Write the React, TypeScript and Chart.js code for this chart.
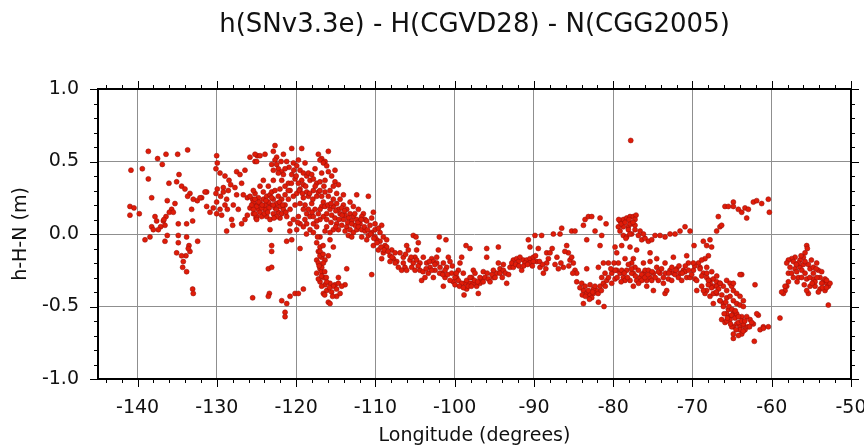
import React, { useEffect, useRef } from 'react';
import { Chart, registerables } from 'chart.js';
Chart.register(...registerables);

const TITLE = 'h(SNv3.3e) - H(CGVD28) - N(CGG2005)';
const X_TITLE = 'Longitude (degrees)';
const Y_TITLE = 'h-H-N (m)';
const xTicks = [-140, -130, -120, -110, -100, -90, -80, -70, -60, -50];
const yTicks = [-1, -0.5, 0, 0.5, 1];
const xRange = [-145, -50];
const yRange = [-1, 1];

const pacificPts: [number, number][] = [
  [-138.65,0.57],[-136.42,0.55],[-134.95,0.55],[-133.69,0.58],[-137.48,0.52],[-136.89,0.48],[-140.84,0.44],[-139.41,0.45],
  [-138.65,0.38],[-136.05,0.35],[-134.78,0.41],[-135.08,0.36],[-134.45,0.33],[-134.03,0.31],[-133.4,0.28],[-133.69,0.26],
  [-132.98,0.24],[-132.47,0.23],[-131.92,0.25],[-131.29,0.29],[-138.23,0.25],[-140.97,0.19],[-140.46,0.18],[-140.97,0.13],
  [-139.79,0.14],[-136.26,0.23],[-135.29,0.21],[-135.71,0.17],[-136.0,0.15],[-135.5,0.15],[-136.42,0.12],[-136.76,0.09],
  [-136.55,0.06],[-137.1,0.05],[-137.81,0.12],[-137.6,0.09],[-138.23,0.05],[-138.02,0.03],[-137.39,0.03],[-136.68,0.1],
  [-139.07,-0.04],[-138.44,-0.02],[-136.26,-0.01],[-134.87,-0.01],[-134.87,-0.06],[-133.82,-0.02],[-133.52,-0.08],[-133.4,-0.12],
  [-133.9,-0.15],[-134.45,-0.15],[-134.24,-0.19],[-134.32,-0.23],[-133.82,-0.26],[-133.06,-0.38],[-132.98,-0.41],[-132.43,-0.05],
  [-133.19,0.17],[-133.06,0.09],[-133.82,0.07],[-128.77,0.02],[-125.49,-0.44],[-134.87,0.07],[-136.55,-0.05],[-135.08,-0.13],
  [-133.61,-0.1],[-130.03,0.54],[-129.95,0.49],[-130.12,0.45],[-129.61,0.42],[-128.98,0.4],[-128.47,0.37],[-128.26,0.34],
  [-129.19,0.32],[-129.95,0.31],[-130.12,0.28],[-129.53,0.26],[-128.77,0.24],[-130.03,0.22],[-131.29,0.19],[-130.87,0.15],
  [-130.03,0.14],[-129.4,0.13],[-128.68,0.17],[-128.14,0.1],[-128.01,0.06],[-126.88,0.07],[-126.46,0.1],[-126.16,0.13],
  [-127.51,0.43],[-127.09,0.41],[-126.46,0.44],[-125.83,0.53],[-125.19,0.5],[-124.9,0.54],[-126.88,0.35],[-126.67,0.27],
  [-126.16,0.25],[-125.49,0.24],[-124.98,0.2],[-124.77,0.17],[-131.5,0.29],[-132.13,0.25],[-129.19,0.29],[-128.56,0.3],
  [-127.72,0.32],[-127.51,0.27],[-127.93,0.2],[-127.3,0.17],[-125.83,0.18],[-125.4,0.14],[-125.07,0.11],[-130.45,0.18],
  [-129.61,0.17],[-128.98,0.2]
];

const cordilleraPts: [number, number][] = [
  [-125.19,0.55],[-124.56,0.54],[-123.93,0.55],[-122.67,0.61],[-122.88,0.57],[-122.46,0.53],[-121.61,0.55],[-120.56,0.59],
  [-119.3,0.59],[-117.2,0.55],[-116.78,0.52],[-115.94,0.57],[-116.36,0.5],[-124.98,0.5],[-122.67,0.51],[-122.46,0.48],
  [-122.25,0.45],[-121.82,0.43],[-121.61,0.41],[-122.25,0.42],[-122.88,0.44],[-123.09,0.48],[-120.35,0.49],[-119.93,0.47],
  [-119.51,0.44],[-119.09,0.42],[-118.67,0.4],[-118.25,0.37],[-118.46,0.42],[-118.04,0.41],[-117.83,0.38],[-117.41,0.35],
  [-116.99,0.36],[-119.3,0.37],[-119.72,0.35],[-119.09,0.34],[-120.56,0.41],[-120.14,0.38],[-120.98,0.35],[-121.4,0.33],
  [-116.99,0.51],[-116.57,0.49],[-116.15,0.47],[-115.94,0.43],[-115.52,0.4],[-115.1,0.36],[-114.67,0.34],[-115.31,0.33],
  [-115.73,0.3],[-116.36,0.29],[-116.78,0.26],[-125.82,0.26],[-125.4,0.22],[-124.98,0.19],[-124.56,0.21],[-124.14,0.24],
  [-123.72,0.26],[-123.3,0.27],[-122.88,0.24],[-122.46,0.21],[-122.04,0.19],[-121.61,0.17],[-123.3,0.2],[-123.93,0.17],
  [-124.56,0.15],[-124.98,0.12],[-125.4,0.17],[-122.88,0.14],[-123.72,0.12],[-123.09,0.29],[-122.67,0.3],[-122.25,0.26],
  [-121.82,0.24],[-121.4,0.27],[-124.14,0.29],[-125.19,0.28],[-124.98,0.1],[-123.3,0.1],[-122.04,0.11],[-121.19,0.12],
  [-123.3,0.03],[-123.09,-0.08],[-123.09,-0.12],[-123.51,-0.24],[-123.38,-0.41],[-123.51,-0.43],[-124.14,0.37],[-125.4,0.3],
  [-120.35,0.26],[-119.51,0.21],[-119.09,0.17],[-118.67,0.14],[-118.25,0.12],[-119.72,0.12],[-120.35,0.1],[-120.77,0.07],
  [-119.09,0.05],[-118.25,0.03],[-117.41,0.05],[-116.99,0.1],[-116.57,0.12],[-116.15,0.14],[-115.73,0.17],[-115.31,0.19],
  [-114.89,0.21],[-114.46,0.24],[-114.04,0.2],[-113.62,0.17],[-113.2,0.14],[-112.78,0.12],[-112.36,0.1],[-111.94,0.07],
  [-114.46,0.14],[-114.04,0.1],[-114.89,0.07],[-115.31,0.03],[-115.73,0.01],[-113.62,0.05],[-113.2,0.03],[-112.78,0.01],
  [-112.36,0.03],[-116.15,0.05],[-116.78,0.19],[-117.62,0.17],[-118.04,0.21],[-118.46,0.26],[-117.41,0.26],[-116.57,0.22],
  [-115.94,0.26],[-115.31,0.24],[-112.36,0.27],[-110.89,0.26],[-110.26,0.15],[-111.52,0.14],[-111.31,0.1],[-110.68,0.06],
  [-110.05,0.03],[-109.42,0.01],[-109.0,-0.02],[-108.58,-0.04],[-109.84,-0.04],[-110.26,-0.08],[-109.63,-0.11],[-109.0,-0.13],
  [-108.16,-0.15],[-107.73,-0.17],[-107.31,-0.19],[-107.1,-0.23],[-108.16,-0.19],[-109.21,-0.17],[-108.79,-0.08],[-109.21,0.06],
  [-111.1,-0.04],[-111.73,-0.02],[-110.47,-0.28],[-117.41,-0.06],[-116.99,-0.09],[-117.2,-0.12],[-116.78,-0.16],[-117.41,-0.18],
  [-117.2,-0.2],[-116.99,-0.24],[-116.78,-0.26],[-117.41,-0.27],[-116.57,-0.3],[-116.99,-0.33],[-116.36,-0.35],[-115.73,-0.34],
  [-115.1,-0.35],[-114.67,-0.34],[-113.83,-0.35],[-116.15,-0.39],[-116.57,-0.41],[-115.94,-0.47],[-115.73,-0.48],[-114.89,-0.43],
  [-114.46,-0.41],[-115.31,-0.36],[-116.78,-0.23],[-116.36,-0.18],[-115.94,-0.15],[-114.67,-0.3],[-113.62,-0.24],[-115.31,-0.09],
  [-115.73,-0.04],[-121.82,-0.46],[-121.19,-0.48],[-121.4,-0.54],[-121.4,-0.57],[-120.77,-0.43],[-120.14,-0.41],[-119.72,-0.41],
  [-119.09,-0.38],[-119.51,-0.1],[-120.56,-0.04],[-123.09,-0.23],
  [-125.61,0.2],[-124.77,0.25],[-124.35,0.18],[-123.51,0.22],[-122.67,0.18],[-122.25,0.15],[-123.09,0.25],[-123.93,0.2],
  [-125.19,0.14],[-124.35,0.12],[-122.46,0.12],[-121.82,0.14],[-121.4,0.2],[-120.98,0.24],[-120.77,0.17],[-120.14,0.2],
  [-119.93,0.28],[-119.09,0.25],[-118.88,0.2],[-118.46,0.17],[-117.83,0.12],[-117.41,0.09],[-116.99,0.17],[-116.36,0.19],
  [-115.52,0.13],[-115.1,0.11],[-114.67,0.17],[-114.25,0.18],[-113.83,0.13],[-113.41,0.11],[-112.99,0.09],[-112.57,0.06],
  [-112.15,0.05],[-111.73,0.03],[-111.31,0.02],[-110.89,-0.01],[-114.25,0.06],[-114.67,0.03],[-113.83,0.02],[-113.41,-0.01],
  [-112.99,-0.02],[-116.15,0.1],[-117.83,0.07],[-118.67,0.07],[-119.51,0.07],[-119.93,0.03],[-117.83,0.01],[-116.99,-0.02],
  [-116.36,0.02],[-119.51,0.31],[-118.67,0.29],[-117.83,0.3],[-117.2,0.29],[-120.77,0.3],[-122.04,0.31],[-123.51,0.33],
  [-124.56,0.33],[-121.82,0.37],[-122.88,0.37],[-116.78,0.42],[-116.36,0.37],[-117.62,0.45],[-118.88,0.49],[-119.72,0.51],
  [-115.1,0.44],[-114.89,0.28],[-114.04,0.27],[-113.2,0.22],[-112.78,0.19],[-112.15,0.17],[-111.73,0.12],[-111.1,0.09],
  [-110.47,0.11],[-110.05,0.07],[-109.63,0.04],[-110.47,0.01],[-110.05,-0.02],[-109.42,-0.05],[-108.58,-0.09],[-107.94,-0.11],
  [-107.52,-0.13],[-116.99,-0.12],[-116.57,-0.2],[-117.2,-0.31],[-116.78,-0.36],[-116.15,-0.33],[-115.52,-0.4],[-114.25,-0.36],
  [-124.7,0.22],[-124.3,0.2],[-123.8,0.23],[-123.4,0.18],[-122.9,0.2],[-122.5,0.17],[-122.1,0.22],[-121.7,0.2],
  [-121.3,0.15],[-124.0,0.14],[-123.6,0.15],[-122.8,0.11],[-125.2,0.24],[-121.0,0.3],[-120.6,0.35],[-120.3,0.44],
  [-120.9,0.46],[-121.2,0.5],[-121.9,0.5],[-121.4,0.45],[-120.0,0.4],[-119.6,0.3],[-119.2,0.28],[-118.8,0.33],
  [-118.3,0.28],[-117.9,0.24],[-117.6,0.33],[-117.0,0.3],[-116.5,0.33],[-116.0,0.2],[-115.6,0.21],[-115.0,0.16],
  [-114.6,0.1],[-114.2,0.13],[-113.9,0.16],[-113.5,0.08],[-113.0,0.07],[-112.6,0.14],[-112.2,0.08],[-111.8,0.1],
  [-111.4,0.05],[-111.0,0.03],[-110.6,0.0],[-110.2,-0.03],[-109.8,-0.06],[-109.3,-0.09],[-108.9,-0.11],[-108.4,-0.12],
  [-107.9,-0.16],[-107.5,-0.2],[-116.6,-0.08],[-117.0,-0.15],[-116.6,-0.14],[-117.1,-0.22],[-116.4,-0.26],[-116.8,-0.29],
  [-116.2,-0.3],[-115.8,-0.37],[-116.4,-0.42],[-115.4,-0.43],[-114.9,-0.38],[-117.3,-0.02],[-118.7,0.0],[-119.8,0.08],
  [-120.8,0.02],[-121.2,-0.05],[-118.0,0.15],[-117.2,0.14],[-115.6,0.08],[-115.0,0.05],[-118.9,0.1]
];

const prairiePts: [number, number][] = [
  [-105.22,-0.01],[-104.88,-0.02],[-101.94,-0.02],[-101.1,-0.04],[-98.57,-0.08],[-98.07,-0.1],[-95.96,-0.1],[-94.49,-0.09],
  [-90.71,-0.04],[-90.5,-0.09],[-89.87,-0.01],[-89.03,-0.01],[-89.45,-0.1],[-88.39,-0.13],[-106.9,-0.13],[-106.48,-0.16],
  [-106.06,-0.08],[-105.85,-0.11],[-105.64,-0.18],[-106.27,-0.23],[-106.69,-0.25],[-105.22,-0.2],[-105.01,-0.16],[-104.8,-0.11],
  [-104.59,-0.06],[-104.38,-0.25],[-104.17,-0.32],[-103.75,-0.3],[-103.96,-0.16],[-103.54,-0.2],[-103.11,-0.23],[-102.9,-0.17],
  [-102.69,-0.19],[-102.48,-0.25],[-102.27,-0.16],[-102.06,-0.11],[-101.85,-0.23],[-101.64,-0.27],[-101.43,-0.36],[-101.22,-0.3],
  [-101.01,-0.23],[-100.8,-0.16],[-100.59,-0.19],[-100.38,-0.27],[-100.17,-0.33],[-99.96,-0.35],[-99.75,-0.3],[-99.54,-0.25],
  [-99.33,-0.2],[-99.12,-0.16],[-98.91,-0.27],[-98.7,-0.34],[-98.49,-0.38],[-98.07,-0.34],[-97.86,-0.3],[-97.65,-0.25],
  [-97.44,-0.27],[-97.23,-0.36],[-97.02,-0.41],[-96.81,-0.34],[-96.6,-0.31],[-96.39,-0.26],[-96.18,-0.3],[-95.96,-0.16],
  [-95.75,-0.31],[-95.54,-0.33],[-95.12,-0.3],[-94.7,-0.27],[-94.49,-0.2],[-94.28,-0.24],[-93.86,-0.21],[-93.44,-0.34],
  [-93.02,-0.23],[-92.6,-0.18],[-92.18,-0.17],[-91.76,-0.16],[-91.55,-0.25],[-91.34,-0.18],[-90.92,-0.18],[-90.5,-0.17],
  [-90.08,-0.16],[-89.66,-0.19],[-89.24,-0.23],[-88.81,-0.27],[-88.39,-0.2],[-88.18,-0.17],[-98.82,-0.42],
  [-106.48,-0.2],[-106.06,-0.25],[-105.43,-0.23],[-104.8,-0.18],[-104.38,-0.2],[-103.33,-0.27],[-102.9,-0.25],[-102.69,-0.3],
  [-102.27,-0.2],[-101.43,-0.2],[-101.22,-0.25],[-100.59,-0.32],[-99.96,-0.3],[-99.54,-0.32],[-99.12,-0.34],[-98.49,-0.32],
  [-98.07,-0.3],[-97.65,-0.34],[-96.81,-0.3],[-95.12,-0.25],[-94.28,-0.27],[-93.86,-0.25],[-92.6,-0.23],[-91.97,-0.19],
  [-91.13,-0.2],[-90.5,-0.2],[-90.08,-0.19],
  [-106.2,-0.14],[-105.5,-0.16],[-105.0,-0.25],[-104.6,-0.22],[-104.0,-0.26],[-103.6,-0.24],[-103.2,-0.19],[-102.5,-0.21],
  [-101.9,-0.27],[-101.5,-0.28],[-100.9,-0.28],[-100.3,-0.22],[-99.8,-0.27],[-99.4,-0.36],[-98.9,-0.37],[-98.3,-0.36],
  [-97.9,-0.36],[-97.5,-0.32],[-97.1,-0.33],[-96.4,-0.33],[-95.9,-0.27],[-95.3,-0.28],[-94.9,-0.3],[-94.0,-0.3],
  [-93.6,-0.27],[-93.2,-0.28],[-92.8,-0.2],[-92.3,-0.21],[-91.9,-0.22],[-91.3,-0.22],[-90.8,-0.21],[-90.2,-0.22],
  [-89.8,-0.15],[-89.3,-0.19],[-88.9,-0.21],[-88.5,-0.24]
];

const easternPts: [number, number][] = [
  [-77.79,0.645],[-83.55,0.1],[-83.13,0.12],[-82.71,0.12],[-81.66,0.11],[-80.9,0.07],[-83.76,0.06],[-86.5,0.04],
  [-86.71,0.0],[-87.55,0.0],[-85.24,0.02],[-84.82,0.02],[-82.29,0.02],[-81.45,-0.01],[-83.34,-0.04],[-81.66,-0.08],
  [-79.14,0.09],[-78.72,0.1],[-78.3,0.11],[-77.88,0.12],[-77.46,0.12],[-77.12,0.13],[-77.25,0.1],[-77.67,0.07],
  [-78.09,0.05],[-79.35,0.05],[-79.14,0.02],[-78.72,-0.01],[-78.3,-0.02],[-77.67,0.0],[-77.25,0.03],[-76.82,-0.01],
  [-76.4,-0.04],[-75.98,-0.03],[-75.56,-0.05],[-75.14,-0.04],[-74.72,-0.01],[-74.09,-0.01],[-73.46,-0.02],[-72.83,0.0],
  [-72.2,0.0],[-71.57,0.02],[-70.94,0.05],[-70.31,0.02],[-69.8,-0.08],[-87.97,-0.13],[-87.34,-0.21],[-86.92,-0.24],
  [-86.29,-0.23],[-85.87,-0.08],[-85.66,-0.13],[-85.45,-0.18],[-85.24,-0.16],[-85.03,-0.2],[-84.82,-0.25],[-84.61,-0.27],
  [-83.97,-0.34],[-83.34,-0.24],[-83.76,-0.39],[-83.34,-0.41],[-82.92,-0.42],[-82.5,-0.41],[-82.08,-0.39],[-81.66,-0.36],
  [-81.24,-0.34],[-80.82,-0.32],[-81.03,-0.27],[-80.61,-0.2],[-80.19,-0.34],[-79.77,-0.31],[-79.56,-0.25],[-79.35,-0.2],
  [-79.14,-0.27],[-78.72,-0.3],[-78.3,-0.25],[-77.88,-0.32],[-77.46,-0.27],[-77.25,-0.23],[-77.04,-0.32],[-76.61,-0.3],
  [-76.19,-0.27],[-75.98,-0.25],[-75.77,-0.32],[-75.35,-0.3],[-74.93,-0.27],[-74.51,-0.23],[-74.3,-0.32],[-73.67,-0.34],
  [-73.46,-0.41],[-73.25,-0.39],[-72.83,-0.25],[-72.41,-0.27],[-71.99,-0.24],[-71.57,-0.27],[-71.15,-0.25],[-70.73,-0.3],
  [-70.52,-0.2],[-69.88,-0.25],[-69.46,-0.39],[-69.25,-0.2],[-70.73,-0.15],[-72.41,-0.16],[-73.46,-0.2],[-75.35,-0.13],
  [-77.04,-0.11],[-77.46,-0.17],[-78.51,-0.17],[-79.56,-0.13],[-79.77,-0.09],[-78.93,-0.08],[-77.88,-0.09],[-81.24,-0.2],
  [-81.45,-0.3],[-81.87,-0.23],[-83.76,-0.48],[-81.87,-0.47],[-81.16,-0.5],[-82.71,-0.44],
  [-83.13,-0.39],[-83.55,-0.36],[-82.5,-0.38],[-82.92,-0.35],[-80.19,-0.27],[-79.77,-0.25],[-78.93,-0.25],[-78.51,-0.32],
  [-77.67,-0.27],[-76.82,-0.25],[-76.4,-0.32],[-75.56,-0.25],[-75.14,-0.32],[-74.09,-0.27],[-73.67,-0.3],[-73.04,-0.31],
  [-72.62,-0.32],[-72.2,-0.28],[-71.78,-0.3],[-71.36,-0.32],[-70.94,-0.26],[-70.31,-0.3],[-69.67,-0.31],[-76.19,-0.2],
  [-75.35,-0.19],[-74.51,-0.17],[-77.67,-0.2],[-75.77,-0.36],[-74.93,-0.39],[-77.46,-0.36],[-78.09,-0.21],[-78.72,0.05],
  [-78.09,0.03],[-76.61,0.02],[-76.19,0.0],[-77.88,0.07],[-77.25,0.06],
  [-87.7,-0.1],[-87.1,-0.16],[-86.6,-0.2],[-86.1,-0.12],[-85.6,-0.22],[-85.1,-0.27],[-84.6,-0.33],[-84.2,-0.37],
  [-83.9,-0.42],[-83.5,-0.43],[-83.0,-0.45],[-82.6,-0.4],[-82.3,-0.36],[-81.9,-0.41],[-81.5,-0.39],[-81.0,-0.36],
  [-80.6,-0.3],[-80.3,-0.24],[-79.9,-0.2],[-79.5,-0.3],[-79.0,-0.33],[-78.6,-0.27],[-78.2,-0.3],[-77.7,-0.24],
  [-77.2,-0.29],[-76.8,-0.34],[-76.4,-0.28],[-76.0,-0.3],[-75.6,-0.28],[-75.1,-0.26],[-74.7,-0.3],[-74.3,-0.26],
  [-73.9,-0.24],[-73.4,-0.27],[-73.0,-0.27],[-72.6,-0.23],[-72.1,-0.25],[-71.7,-0.22],[-71.3,-0.27],[-70.9,-0.22],
  [-70.5,-0.25],[-70.1,-0.28],[-69.7,-0.22],[-79.0,0.07],[-78.5,0.08],[-78.0,0.1],[-77.5,0.08],[-78.4,-0.03],
  [-77.9,0.0],[-79.3,0.1]
];

const atlanticPts: [number, number][] = [
  [-66.74,0.12],[-66.53,0.05],[-66.95,0.02],[-66.32,0.06],[-65.9,0.19],[-65.47,0.19],[-64.84,0.22],[-64.84,0.19],
  [-64.21,0.17],[-63.79,0.15],[-63.37,0.18],[-63.16,0.11],[-62.95,0.17],[-62.32,0.22],[-61.9,0.23],[-61.27,0.21],
  [-60.43,0.24],[-60.3,0.15],[-68.63,-0.05],[-68.21,-0.08],[-67.79,-0.04],[-67.58,-0.09],[-67.99,-0.15],[-68.42,-0.17],
  [-68.84,-0.18],[-69.05,-0.23],[-68.63,-0.27],[-68.21,-0.3],[-67.79,-0.32],[-67.37,-0.31],[-66.95,-0.33],[-66.53,-0.34],
  [-66.11,-0.36],[-65.69,-0.32],[-65.26,-0.34],[-65.05,-0.36],[-64.84,-0.39],[-64.42,-0.41],[-64.0,-0.43],[-63.58,-0.46],
  [-63.79,-0.28],[-62.11,-0.35],[-67.37,-0.36],[-66.95,-0.41],[-66.53,-0.46],[-66.11,-0.48],[-65.69,-0.44],[-65.26,-0.43],
  [-64.84,-0.46],[-64.42,-0.48],[-64.0,-0.49],[-63.58,-0.5],[-68.21,-0.39],[-67.79,-0.43],[-67.37,-0.48],[-68.84,-0.36],
  [-68.42,-0.41],[-66.32,-0.59],[-65.9,-0.61],[-65.26,-0.57],[-64.84,-0.55],[-64.42,-0.62],[-64.0,-0.64],[-63.58,-0.63],
  [-62.74,-0.59],[-62.32,-0.62],[-61.69,-0.56],[-61.06,-0.64],[-60.43,-0.64],[-58.96,-0.58],
  [-67.36,-0.41],[-66.52,-0.46],[-65.68,-0.55],[-65.26,-0.59],[-64.84,-0.64],[-64.84,-0.72],[-64.0,-0.66],[-63.58,-0.62],
  [-63.16,-0.57],[-62.53,-0.61],[-61.89,-0.55],[-62.2,-0.74],[-61.47,-0.66],[-61.05,-0.65],[-66.94,-0.36],[-67.78,-0.34],
  [-68.62,-0.39],[-69.47,-0.32],[-68.2,-0.27],[-66.52,-0.34],[-65.68,-0.39],[-64.84,-0.34],[-64.0,-0.28],[-66.1,-0.5],
  [-65.47,-0.52],[-65.05,-0.56],[-64.63,-0.58],[-64.21,-0.61],[-63.79,-0.57],[-64.42,-0.55],[-65.05,-0.64],[-65.68,-0.6],
  [-63.37,-0.66],[-63.79,-0.69],[-64.84,-0.69],[-69.89,-0.2],[-69.04,-0.24],[-68.2,-0.23],[-67.57,-0.26],[-66.94,-0.29],
  [-68.83,-0.29],[-67.99,-0.32],
  [-66.7,-0.38],[-66.3,-0.42],[-65.8,-0.47],[-65.4,-0.5],[-65.0,-0.52],[-64.6,-0.53],[-64.2,-0.57],[-63.8,-0.6],
  [-63.4,-0.6],[-63.0,-0.64],[-64.5,-0.66],[-64.2,-0.7],[-63.6,-0.67],[-62.8,-0.64],[-65.2,-0.62],[-65.6,-0.58],
  [-66.0,-0.55],[-67.0,-0.4],[-67.6,-0.37],[-68.0,-0.35],
  [-55.59,-0.08],[-55.51,-0.1],[-55.8,-0.13],[-56.01,-0.16],[-56.43,-0.18],[-57.06,-0.16],[-57.48,-0.17],[-57.9,-0.18],
  [-58.11,-0.2],[-57.69,-0.23],[-57.06,-0.24],[-56.43,-0.23],[-56.01,-0.21],[-55.38,-0.21],[-55.17,-0.24],[-56.64,-0.3],
  [-56.22,-0.3],[-55.59,-0.31],[-54.75,-0.27],[-54.33,-0.2],[-54.12,-0.25],[-53.91,-0.3],[-53.49,-0.33],[-53.07,-0.34],
  [-52.86,-0.36],[-53.28,-0.39],[-53.91,-0.38],[-54.54,-0.36],[-55.17,-0.36],[-55.38,-0.41],[-55.59,-0.39],[-54.12,-0.4],
  [-57.9,-0.33],[-58.32,-0.39],[-58.53,-0.41],[-58.11,-0.36],[-52.86,-0.49],[-57.27,-0.3],[-57.9,-0.27],[-56.85,-0.26],
  [-54.75,-0.31],[-53.7,-0.26],[-53.28,-0.31],[-52.65,-0.34],[-57.27,-0.19],[-56.64,-0.2],[-55.8,-0.19],[-54.75,-0.23],
  [-54.54,-0.33],[-53.7,-0.34],[-53.07,-0.32],[-58.32,-0.36],[-58.75,-0.4],
  [-56.9,-0.21],[-56.2,-0.25],[-55.8,-0.27],[-55.2,-0.3],[-54.9,-0.34],[-54.3,-0.3],[-53.6,-0.37],[-53.1,-0.37],
  [-56.8,-0.33],[-57.5,-0.27],[-55.9,-0.35],[-54.4,-0.24],[-55.0,-0.18],[-56.3,-0.15]
];

const allPts = [...pacificPts, ...cordilleraPts, ...prairiePts, ...easternPts, ...atlanticPts];

const FONT = '"DejaVu Sans", "Liberation Sans", sans-serif';

const framePlugin = {
  id: 'gmtFrame',
  afterDatasetsDraw(chart: any) {
    const { ctx, chartArea: a, scales } = chart;
    const x = scales.x, y = scales.y;
    ctx.save();
    ctx.strokeStyle = '#000';
    ctx.lineWidth = 1;
    const seg = (x1: number, y1: number, x2: number, y2: number) => {
      ctx.beginPath(); ctx.moveTo(x1, y1); ctx.lineTo(x2, y2); ctx.stroke();
    };
    for (let v = xRange[0] + 1; v <= xRange[1]; v += 2) {
      const px = Math.round(x.getPixelForValue(v)) + 0.5;
      const len = v % 10 === 0 ? 8 : 4;
      seg(px, a.bottom, px, a.bottom + len);
      seg(px, a.top, px, a.top - len);
    }
    for (let i = -10; i <= 10; i++) {
      const py = Math.round(y.getPixelForValue(i / 10)) + 0.5;
      const len = i % 5 === 0 ? 8 : 4;
      seg(a.left, py, a.left - len, py);
      seg(a.right, py, a.right + len, py);
    }
    ctx.lineWidth = 2;
    ctx.strokeRect(a.left, a.top, a.right - a.left, a.bottom - a.top);
    ctx.restore();
  },
  afterDraw(chart: any) {
    const { ctx, chartArea: a } = chart;
    ctx.save();
    ctx.fillStyle = '#111';
    ctx.font = '26px ' + FONT;
    ctx.textAlign = 'center';
    ctx.textBaseline = 'alphabetic';
    ctx.fillText(TITLE, (a.left + a.right) / 2, 32);
    ctx.restore();
  }
};

export default function App() {
  const ref = useRef<HTMLCanvasElement>(null);
  useEffect(() => {
    if (!ref.current) return;
    const chart = new Chart(ref.current, {
      type: 'scatter',
      data: {
        datasets: [{
          data: allPts.map(([x, y]) => ({ x, y })),
          backgroundColor: '#e01c08',
          borderColor: 'rgba(150,15,10,0.9)',
          borderWidth: 0.6,
          pointRadius: 2.5,
          pointHoverRadius: 2.5,
        }]
      },
      options: {
        responsive: false,
        animation: false,
        events: [],
        layout: { padding: { left: 0, right: 13, top: 89, bottom: 0 } },
        plugins: { legend: { display: false }, tooltip: { enabled: false }, title: { display: false } },
        scales: {
          x: {
            type: 'linear',
            min: xRange[0], max: xRange[1],
            afterBuildTicks: (s: any) => { s.ticks = xTicks.map(v => ({ value: v })); },
            afterFit: (s: any) => { s.height = 69; s.paddingLeft = 0; s.paddingRight = 0; },
            ticks: { font: { family: FONT, size: 19 }, color: '#111', padding: 18, maxRotation: 0, autoSkip: false, callback: (v: any) => String(v) },
            grid: { color: '#8f8f8f', lineWidth: 1, drawTicks: false },
            border: { display: false },
            title: { display: true, text: X_TITLE, font: { family: FONT, size: 19 }, color: '#111', padding: { top: 0, bottom: 1 } },
          },
          y: {
            type: 'linear',
            min: yRange[0], max: yRange[1],
            afterBuildTicks: (s: any) => { s.ticks = yTicks.map(v => ({ value: v })); },
            afterFit: (s: any) => { s.width = 98; s.paddingTop = 0; s.paddingBottom = 0; },
            ticks: { font: { family: FONT, size: 19 }, color: '#111', padding: 19, autoSkip: false, callback: (v: any) => Number(v).toFixed(1) },
            grid: { color: '#8f8f8f', lineWidth: 1, drawTicks: false },
            border: { display: false },
            title: { display: true, text: Y_TITLE, font: { family: FONT, size: 19 }, color: '#111', padding: { top: 10, bottom: 0 } },
          }
        }
      },
      plugins: [framePlugin]
    });
    return () => chart.destroy();
  }, []);
  return (
    <div style={{ position: 'absolute', left: 0, top: 0, width: 864, height: 448, background: '#fff' }}>
      <canvas ref={ref} width={864} height={448} style={{ display: 'block', width: 864, height: 448 }} />
    </div>
  );
}
